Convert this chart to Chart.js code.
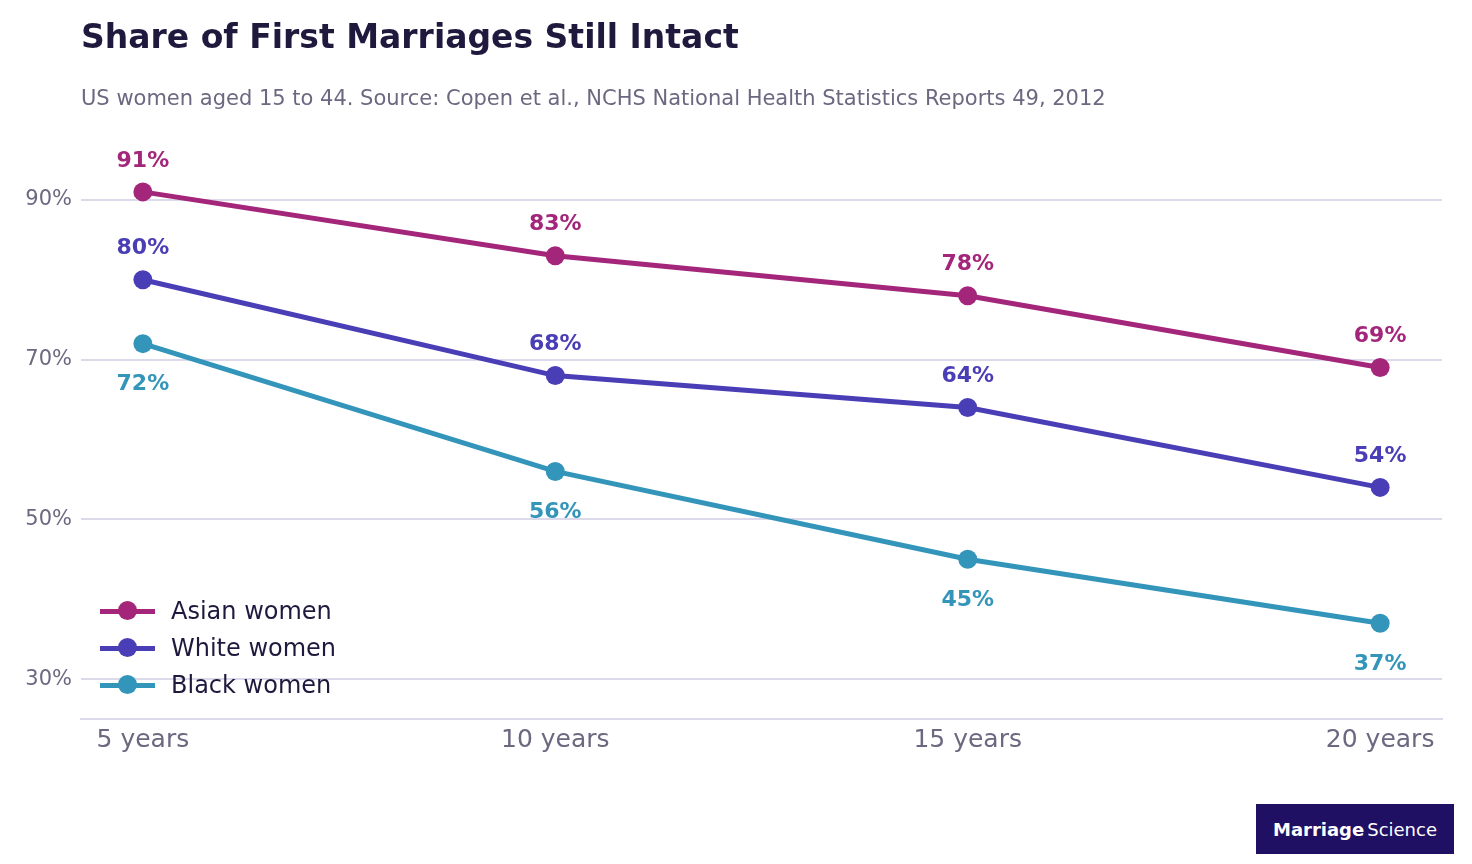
<!DOCTYPE html>
<html>
<head>
<meta charset="utf-8">
<script src="https://cdn.jsdelivr.net/npm/chart.js@4.4.0/dist/chart.umd.min.js"></script>
<style>
  html, body { margin: 0; padding: 0; background: #fff; }
  body { width: 1472px; height: 864px; position: relative; overflow: hidden; font-family: "DejaVu Sans", sans-serif; }
  #title { position: absolute; left: 81px; top: 17px; font-size: 33px; font-weight: bold; color: #1f1a3d; white-space: nowrap; }
  #subtitle { position: absolute; left: 81px; top: 86px; font-size: 21px; color: #6b6880; white-space: nowrap; }
  #wrap { position: absolute; left: 0; top: 0; width: 1472px; height: 864px; }
  #legend { position: absolute; left: 100px; top: 592px; }
  .item { height: 37px; display: flex; align-items: center; font-size: 24px; color: #1f1a3d; }
  .swatch { position: relative; width: 55px; height: 20px; margin-right: 16px; }
  .swatch .ln { position: absolute; left: 0; top: 8px; width: 55px; height: 5px; }
  .swatch .dot { position: absolute; left: 18px; top: 0; width: 19px; height: 19px; border-radius: 50%; }
  #logo { position: absolute; left: 1256px; top: 804px; width: 198px; height: 50px; background: #1f1064; color: #fff; font-size: 18px; display: flex; align-items: center; justify-content: center; }
  #logo b { font-weight: bold; margin-right: 3px; }
</style>
</head>
<body>
<div id="wrap"><canvas id="chart"></canvas></div>
<div id="title">Share of First Marriages Still Intact</div>
<div id="subtitle">US women aged 15 to 44. Source: Copen et al., NCHS National Health Statistics Reports 49, 2012</div>
<div id="legend"></div>
<div id="logo"><b>Marriage</b>Science</div>
<script>
const categories = ['5 years', '10 years', '15 years', '20 years'];
const seriesNames = ['Asian women', 'White women', 'Black women'];
const asian = [91, 83, 78, 69];
const white = [80, 68, 64, 54];
const black = [72, 56, 45, 37];
const yTicks = [30, 50, 70, 90];

const colors = ['#a4267b', '#4a3eb6', '#3395ba'];
const labelSide = ['above', 'above', 'below'];
const seriesValues = [asian, white, black];

// legend in html
const legendEl = document.getElementById('legend');
seriesNames.forEach((name, i) => {
    const row = document.createElement('div');
    row.className = 'item';
    row.innerHTML = '<div class="swatch"><div class="ln" style="background:' + colors[i] + '"></div><div class="dot" style="background:' + colors[i] + '"></div></div>' + name;
    legendEl.appendChild(row);
});

// value labels above / below each point
const pointLabels = {
    id: 'pointLabels',
    afterDatasetsDraw(chart) {
        const ctx = chart.ctx;
        ctx.save();
        ctx.font = 'bold 22px "DejaVu Sans"';
        ctx.textAlign = 'center';
        ctx.textBaseline = 'middle';
        chart.data.datasets.forEach((ds, i) => {
            const meta = chart.getDatasetMeta(i);
            ctx.fillStyle = ds.borderColor;
            meta.data.forEach((pt, j) => {
                const dy = labelSide[i] === 'above' ? -31 : 41;
                ctx.fillText(ds.data[j].y + '%', pt.x, pt.y + dy);
            });
        });
        ctx.restore();
    }
};

const ctx = document.getElementById('chart').getContext('2d');
new Chart(ctx, {
    type: 'line',
    data: {
        datasets: seriesValues.map((vals, i) => ({
            label: seriesNames[i],
            data: vals.map((v, j) => ({ x: j, y: v })),
            borderColor: colors[i],
            backgroundColor: colors[i],
            pointBackgroundColor: colors[i],
            borderWidth: 5,
            pointRadius: 9.5,
            pointBorderWidth: 0,
            tension: 0
        }))
    },
    options: {
        responsive: true,
        maintainAspectRatio: false,
        animation: false,
        layout: { padding: { left: 0, right: 30, top: 120, bottom: 105 } },
        plugins: {
            legend: { display: false },
            tooltip: { enabled: false }
        },
        scales: {
            x: {
                type: 'linear',
                min: -0.15,
                max: 3.15,
                afterBuildTicks: axis => { axis.ticks = categories.map((c, i) => ({ value: i })); },
                afterFit: axis => { axis.height = 40; },
                grid: { display: false, drawTicks: false },
                border: { display: true, color: '#dcdaea', width: 2 },
                ticks: {
                    callback: v => categories[v],
                    color: '#6b6880',
                    font: { family: 'DejaVu Sans', size: 25 },
                    padding: 6,
                    maxRotation: 0
                }
            },
            y: {
                min: 25,
                max: 100,
                afterBuildTicks: axis => { axis.ticks = yTicks.map(v => ({ value: v })); },
                afterFit: axis => { axis.width = 81; },
                grid: { color: '#dcdaea', lineWidth: 2, drawTicks: false },
                border: { display: false },
                ticks: {
                    callback: v => v + '%',
                    color: '#6b6880',
                    font: { family: 'DejaVu Sans', size: 21 },
                    padding: 9
                }
            }
        }
    },
    plugins: [pointLabels]
});
</script>
</body>
</html>
